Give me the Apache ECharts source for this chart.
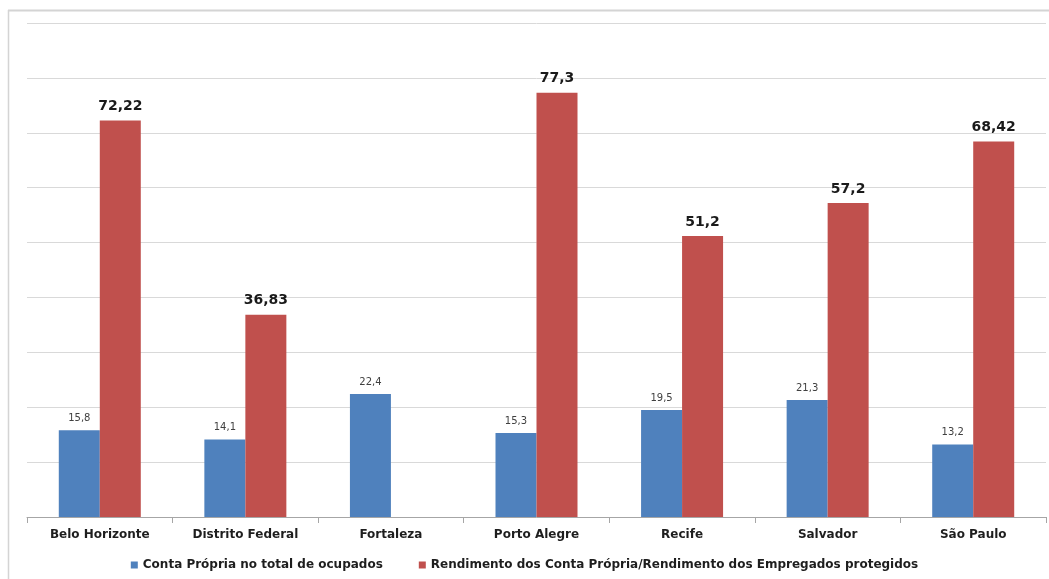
<!DOCTYPE html>
<html>
<head>
<meta charset="utf-8">
<script src="https://cdn.jsdelivr.net/npm/echarts@6/dist/echarts.min.js"></script>
<style>
  html, body { margin: 0; padding: 0; background: #ffffff; }
  #chart { width: 1049px; height: 579px; }
</style>
</head>
<body>
<div id="chart"></div>
<script>
// Metropolitan regions
const cities = ['Belo Horizonte', 'Distrito Federal', 'Fortaleza', 'Porto Alegre', 'Recife', 'Salvador', 'São Paulo'];

// Share of self-employed in total employed (%)
const contaPropriaShare = [15.8, 14.1, 22.4, 15.3, 19.5, 21.3, 13.2];

// Self-employed income relative to protected employees' income (%)
const rendimentoRatio = [72.22, 36.83, '-', 77.3, 51.2, 57.2, 68.42];

const seriesNames = [
  'Conta Própria no total de ocupados',
  'Rendimento dos Conta Própria/Rendimento dos Empregados protegidos'
];

const fmt = (v) => String(v).replace('.', ',');
const FONT = 'DejaVu Sans';

const chart = echarts.init(document.getElementById('chart'), null, { renderer: 'canvas' });

chart.setOption({
  animation: false,
  textStyle: { fontFamily: FONT },
  graphic: [
    // outer frame (top and left edges)
    { type: 'line', shape: { x1: 8, y1: 10.5, x2: 1049, y2: 10.5 }, style: { stroke: '#d4d4d4', lineWidth: 2 } },
    { type: 'line', shape: { x1: 8.5, y1: 10, x2: 8.5, y2: 579 }, style: { stroke: '#d4d4d4', lineWidth: 1.5 } }
  ],
  grid: { left: 27, right: 3, top: 23, bottom: 62, containLabel: false },
  legend: {
    data: seriesNames,
    left: 'center',
    top: 554,
    itemWidth: 7,
    itemHeight: 7,
    itemGap: 36,
    icon: 'rect',
    textStyle: { fontFamily: FONT, fontSize: 12, fontWeight: 'bold', color: '#1e1e1e' }
  },
  xAxis: {
    type: 'category',
    data: cities,
    axisLine: { show: true, lineStyle: { color: '#a6a6a6', width: 1 } },
    axisTick: { show: true, alignWithLabel: false, length: 6, lineStyle: { color: '#a6a6a6' } },
    axisLabel: { fontFamily: FONT, fontSize: 12, fontWeight: 'bold', color: '#1e1e1e', margin: 12 }
  },
  yAxis: {
    type: 'value',
    min: 0,
    max: 90,
    interval: 10,
    axisLine: { show: false },
    axisTick: { show: false },
    axisLabel: { show: false },
    splitLine: { lineStyle: { color: '#d9d9d9', width: 1 } }
  },
  series: [
    {
      name: seriesNames[0],
      type: 'bar',
      data: contaPropriaShare,
      barWidth: 41,
      barGap: '0%',
      itemStyle: { color: '#4f81bd' },
      label: {
        show: true,
        position: 'top',
        distance: 7,
        fontFamily: FONT,
        fontSize: 10,
        color: '#404040',
        formatter: (p) => fmt(p.value)
      }
    },
    {
      name: seriesNames[1],
      type: 'bar',
      data: rendimentoRatio,
      barWidth: 41,
      barGap: '0%',
      itemStyle: { color: '#c0504d' },
      label: {
        show: true,
        position: 'top',
        distance: 7,
        fontFamily: FONT,
        fontSize: 14,
        fontWeight: 'bold',
        color: '#1a1a1a',
        formatter: (p) => fmt(p.value)
      }
    }
  ]
});
</script>
</body>
</html>
